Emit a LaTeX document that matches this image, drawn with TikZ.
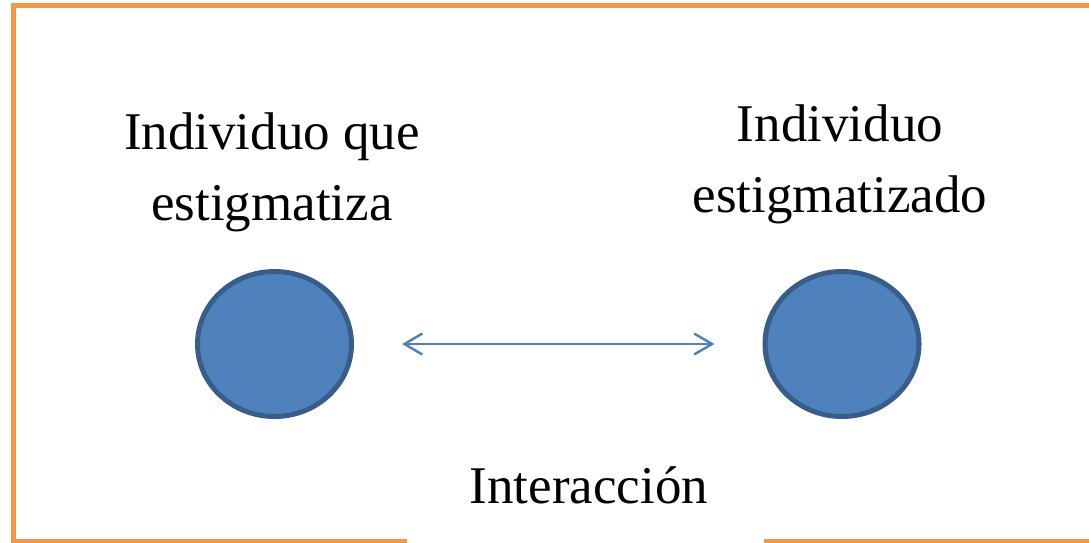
\documentclass[tikz,border=0pt]{standalone}
\usepackage{fontspec}
\setmainfont{Liberation Serif}
\usetikzlibrary{shapes.geometric,arrows.meta}
\definecolor{frameorange}{HTML}{F79646}
\definecolor{dotfill}{HTML}{4F81BD}
\definecolor{dotline}{HTML}{385D8A}
\tikzset{
  framestroke/.style={draw=frameorange, line width=5pt},
  person/.style={ellipse, fill=dotfill, draw=dotline, line width=5pt,
    minimum width=154pt, minimum height=145pt, inner sep=0pt},
  label/.style={align=center, font=\fontsize{53}{71}\selectfont, inner sep=0pt},
  link/.style={draw=dotfill, line width=2.4pt, {Straight Barb[length=18pt,width=21pt]}-{Straight Barb[length=18pt,width=21pt]}}
}
\begin{document}
\begin{tikzpicture}[x=1pt,y=-1pt]
\useasboundingbox (0,0) rectangle (1089,542);
\draw[framestroke] (407,541) -- (13.5,541) -- (13.5,5.5) -- (1095,5.5);
\draw[framestroke] (764,541) -- (1095,541);
\node[person] (a) at (274.5,344) {};
\node[person] (b) at (842,344) {};
\node[label, anchor=base] (la) at (272,220) {Individuo que\\estigmatiza};
\node[label, anchor=base] (lb) at (840,212) {Individuo\\estigmatizado};
\node[label, anchor=base] (li) at (589,503) {Interacción};
\draw[link] ([xshift=48pt]a.east) -- ([xshift=-48pt]b.west);
\end{tikzpicture}
\end{document}
